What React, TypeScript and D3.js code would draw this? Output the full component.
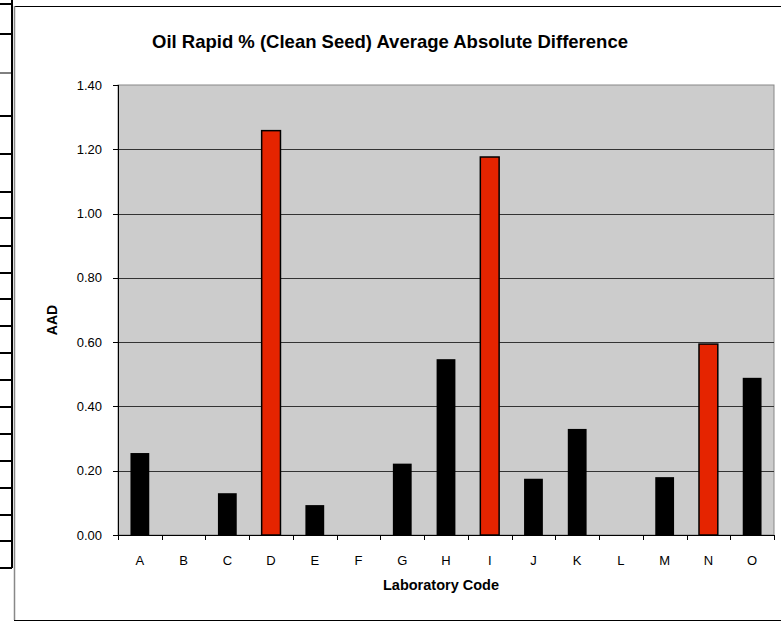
import React from 'react'
import * as d3 from 'd3'

// lab codes and their average absolute difference
const labs = ['A', 'B', 'C', 'D', 'E', 'F', 'G', 'H', 'I', 'J', 'K', 'L', 'M', 'N', 'O']
const aad = [0.255, 0, 0.13, 1.258, 0.093, 0, 0.222, 0.547, 1.176, 0.175, 0.33, 0, 0.18, 0.594, 0.489]
const flagged = ['D', 'I', 'N']
const yTicks = [0, 0.2, 0.4, 0.6, 0.8, 1.0, 1.2, 1.4]

// ruling of the table peeking in on the left edge
const tableRuleY = [4, 34, 73, 116, 154, 192, 218, 246, 273, 299, 326, 353, 380, 407, 434, 461, 488, 515, 541, 568]

const width = 781
const height = 622
const margin = { top: 85, right: 7, bottom: 87, left: 118 }

export default function App() {
    const x = d3.scaleBand()
        .domain(labs)
        .range([margin.left, width - margin.right])
        .paddingInner(0.57)
        .paddingOuter(0.285)

    const y = d3.scaleLinear()
        .domain([0, 1.4])
        .range([height - margin.bottom, margin.top])

    const step = x.step()
    const x0 = margin.left
    const x1 = width - margin.right
    const bandX = (d: string) => x(d) as number
    // tick marks sit between categories
    const boundaries = d3.range(labs.length + 1).map(i => x0 + i * step)

    const font = 'Arial, "Liberation Sans", Helvetica, sans-serif'

    return (
        <svg width={width} height={height} style={{ position: 'absolute', left: 0, top: 0, fontFamily: font }}>
            <rect x={0} y={0} width={width} height={height} fill="#fff" />

            {/* table edge on the left */}
            <line x1={12} x2={12} y1={0} y2={568} stroke="#000" strokeWidth={2} />
            {tableRuleY.map((ty, i) => (
                <line key={i} x1={0} x2={12} y1={ty} y2={ty} stroke="#000" strokeWidth={ty === 73 ? 1 : 2} />
            ))}

            {/* chart frame */}
            <line x1={14} x2={width} y1={6.5} y2={6.5} stroke="#000" strokeWidth={1} />
            <line x1={14.5} x2={14.5} y1={6} y2={620} stroke="#888" strokeWidth={1.5} />
            <line x1={14} x2={width} y1={620.5} y2={620.5} stroke="#000" strokeWidth={1} />

            <text x={390} y={48} textAnchor="middle" fontSize={18.5} fontWeight="bold">
                Oil Rapid % (Clean Seed) Average Absolute Difference
            </text>

            {/* plot area */}
            <rect x={x0} y={margin.top} width={x1 - x0} height={y(0) - margin.top} fill="#cccccc" stroke="#888" strokeWidth={1} />

            {yTicks.filter(t => t > 0 && t < 1.4).map(t => (
                <line key={t} x1={x0} x2={x1} y1={Math.round(y(t)) + 0.5} y2={Math.round(y(t)) + 0.5} stroke="#333" strokeWidth={1} />
            ))}

            {labs.map((d, i) => {
                const red = flagged.includes(d)
                if (aad[i] <= 0) return null
                return (
                    <rect
                        key={d}
                        x={bandX(d)}
                        y={y(aad[i])}
                        width={x.bandwidth()}
                        height={y(0) - y(aad[i])}
                        fill={red ? '#e52400' : '#000'}
                        stroke="#000"
                        strokeWidth={red ? 1.5 : 0}
                    />
                )
            })}

            {/* axes */}
            <line x1={x0 + 0.5} x2={x0 + 0.5} y1={margin.top} y2={y(0)} stroke="#000" strokeWidth={1} />
            <line x1={x0} x2={x1} y1={y(0) + 0.5} y2={y(0) + 0.5} stroke="#000" strokeWidth={1} />

            {yTicks.map(t => (
                <g key={t}>
                    <line x1={x0 - 5} x2={x0} y1={Math.round(y(t)) + 0.5} y2={Math.round(y(t)) + 0.5} stroke="#000" />
                    <text x={102} y={y(t) + 4.5} textAnchor="end" fontSize={13}>{d3.format('.2f')(t)}</text>
                </g>
            ))}

            {boundaries.map((bx, i) => (
                <line key={i} x1={Math.round(bx) + 0.5} x2={Math.round(bx) + 0.5} y1={y(0)} y2={y(0) + 5} stroke="#000" />
            ))}

            {labs.map(d => (
                <text key={d} x={bandX(d) + x.bandwidth() / 2} y={565} textAnchor="middle" fontSize={13}>{d}</text>
            ))}

            <text x={441} y={590} textAnchor="middle" fontSize={14.5} fontWeight="bold">Laboratory Code</text>
            <text transform={`translate(57,320) rotate(-90)`} textAnchor="middle" fontSize={14} fontWeight="bold">AAD</text>
        </svg>
    )
}
